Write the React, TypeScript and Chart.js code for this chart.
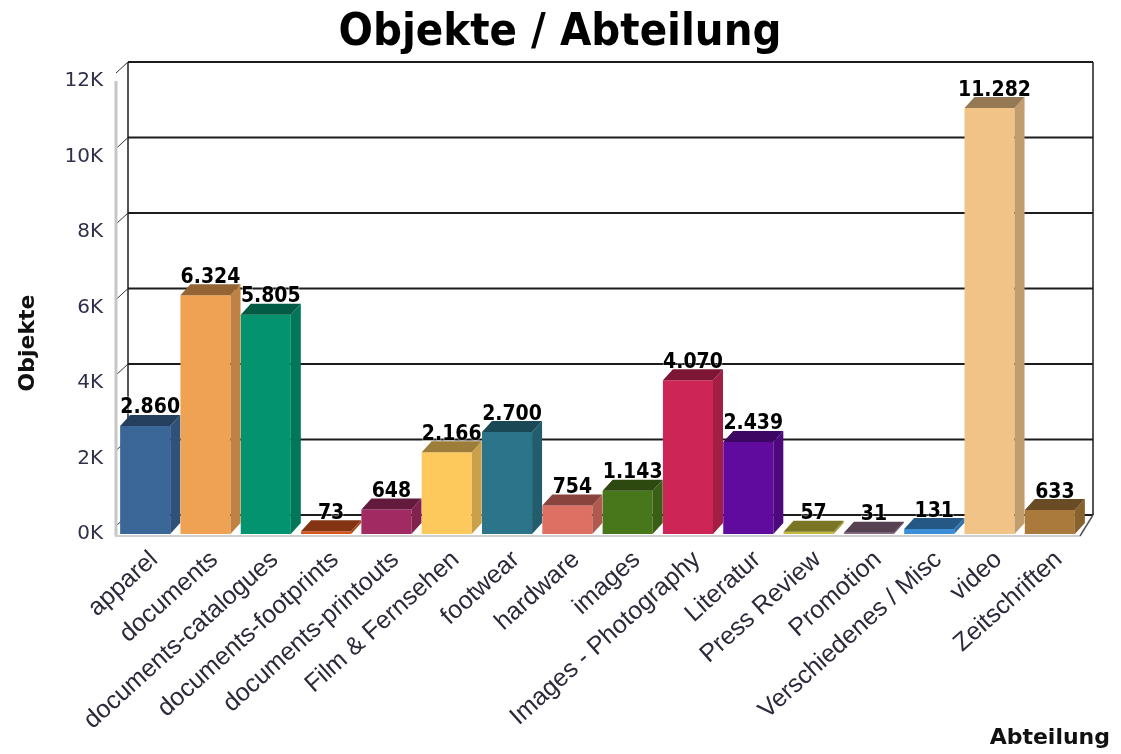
import React, { useEffect, useRef } from "react";
import { Chart, registerables } from "chart.js";

Chart.register(...registerables);

// ---------- data ----------
const categories: string[] = [
  "apparel",
  "documents",
  "documents-catalogues",
  "documents-footprints",
  "documents-printouts",
  "Film & Fernsehen",
  "footwear",
  "hardware",
  "images",
  "Images - Photography",
  "Literatur",
  "Press Review",
  "Promotion",
  "Verschiedenes / Misc",
  "video",
  "Zeitschriften",
];

const objekte: number[] = [
  2860, 6324, 5805, 73, 648, 2166, 2700, 754, 1143, 4070, 2439, 57, 31, 131, 11282, 633,
];

const barColors: string[] = [
  "#3b6698",
  "#efa254",
  "#03936f",
  "#d4561e",
  "#a12a62",
  "#fdc95d",
  "#2b7489",
  "#dd6f63",
  "#48761a",
  "#cc2556",
  "#600a9e",
  "#c4bb3c",
  "#8a6a85",
  "#3c8ed6",
  "#f1c387",
  "#a97a3b",
];

const yTicks: number[] = [0, 2000, 4000, 6000, 8000, 10000, 12000];

const chartTitle = "Objekte / Abteilung";
const yAxisTitle = "Objekte";
const xAxisTitle = "Abteilung";

// ---------- helpers ----------
const WALL_DX = 13;
const WALL_DY = -19;
const BAR_DX = 10;
const BAR_DY = -11;

function shade(hex: string, f: number): string {
  const n = parseInt(hex.slice(1), 16);
  const r = Math.round(((n >> 16) & 255) * f);
  const g = Math.round(((n >> 8) & 255) * f);
  const b = Math.round((n & 255) * f);
  return `rgb(${r},${g},${b})`;
}

function formatDe(v: number): string {
  return String(v).replace(/\B(?=(\d{3})+(?!\d))/g, ".");
}

const threeDPlugin = {
  id: "threeD",
  beforeDatasetsDraw(chart: any) {
    const { ctx, chartArea: a, scales } = chart;
    const y = scales.y;
    const backL = a.left + WALL_DX;
    const backR = a.right + WALL_DX;
    const topB = y.getPixelForValue(yTicks[yTicks.length - 1]) + WALL_DY;
    const botB = y.getPixelForValue(0) + WALL_DY;
    ctx.save();
    // back wall grid
    ctx.strokeStyle = "#1c1c1c";
    ctx.lineWidth = 2;
    for (const v of yTicks) {
      const by = y.getPixelForValue(v) + WALL_DY;
      ctx.beginPath();
      ctx.moveTo(backL, by);
      ctx.lineTo(backR, by);
      ctx.stroke();
    }
    ctx.lineWidth = 1.5;
    ctx.beginPath();
    ctx.moveTo(backL, topB);
    ctx.lineTo(backL, botB);
    ctx.moveTo(backR, topB);
    ctx.lineTo(backR, botB);
    ctx.stroke();
    // side wall diagonals
    ctx.lineWidth = 1;
    ctx.strokeStyle = "#333";
    for (const v of yTicks) {
      const fy = y.getPixelForValue(v);
      ctx.beginPath();
      ctx.moveTo(a.left + 1, fy - 8);
      ctx.lineTo(backL, fy + WALL_DY);
      ctx.stroke();
    }
    // front vertical axis (gray)
    ctx.strokeStyle = "#c6c6c6";
    ctx.lineWidth = 3;
    ctx.beginPath();
    ctx.moveTo(a.left + 1, y.getPixelForValue(yTicks[yTicks.length - 1]));
    ctx.lineTo(a.left + 1, a.bottom + 2);
    ctx.stroke();
    // floor front edge
    ctx.strokeStyle = "#cfcfcf";
    ctx.lineWidth = 2;
    ctx.beginPath();
    ctx.moveTo(a.left, a.bottom + 2);
    ctx.lineTo(a.right, a.bottom + 2);
    ctx.stroke();
    // floor right diagonal
    ctx.strokeStyle = "#555";
    ctx.lineWidth = 1.5;
    ctx.beginPath();
    ctx.moveTo(a.right, a.bottom + 2);
    ctx.lineTo(backR, botB);
    ctx.stroke();
    ctx.restore();
  },
  afterDatasetsDraw(chart: any) {
    const { ctx } = chart;
    const meta = chart.getDatasetMeta(0);
    ctx.save();
    meta.data.forEach((bar: any, i: number) => {
      const { x, y: top, base, width } = bar.getProps(["x", "y", "base", "width"], true);
      const l = x - width / 2;
      const r = x + width / 2;
      const col = barColors[i];
      // side face
      ctx.fillStyle = shade(col, 0.8);
      ctx.beginPath();
      ctx.moveTo(r, top);
      ctx.lineTo(r + BAR_DX, top + BAR_DY);
      ctx.lineTo(r + BAR_DX, base + BAR_DY);
      ctx.lineTo(r, base);
      ctx.closePath();
      ctx.fill();
      // top face
      ctx.fillStyle = shade(col, 0.62);
      ctx.beginPath();
      ctx.moveTo(l, top);
      ctx.lineTo(l + BAR_DX, top + BAR_DY);
      ctx.lineTo(r + BAR_DX, top + BAR_DY);
      ctx.lineTo(r, top);
      ctx.closePath();
      ctx.fill();
    });
    // value labels
    ctx.font = "bold 21px 'DejaVu Sans Condensed', 'DejaVu Sans', sans-serif";
    ctx.textAlign = "center";
    ctx.textBaseline = "middle";
    meta.data.forEach((bar: any, i: number) => {
      const { x, y: top } = bar.getProps(["x", "y"], true);
      ctx.lineWidth = 2;
      ctx.strokeStyle = "rgba(255,255,255,0.35)";
      ctx.strokeText(formatDe(objekte[i]), x + 5, top - 18);
      ctx.fillStyle = "#000";
      ctx.fillText(formatDe(objekte[i]), x + 5, top - 18);
    });
    ctx.restore();
  },
  afterDraw(chart: any) {
    const { ctx } = chart;
    ctx.save();
    // chart title
    ctx.fillStyle = "#000";
    ctx.font = "bold 45px 'DejaVu Sans Condensed', 'DejaVu Sans', sans-serif";
    ctx.textAlign = "center";
    ctx.textBaseline = "alphabetic";
    ctx.fillText(chartTitle, 560, 45);
    // axis titles
    ctx.fillStyle = "#111";
    ctx.font = "bold 22px 'DejaVu Sans', sans-serif";
    ctx.textAlign = "right";
    ctx.fillText(xAxisTitle, 1110, 744);
    ctx.translate(28, 343);
    ctx.rotate(-Math.PI / 2);
    ctx.textAlign = "center";
    ctx.textBaseline = "middle";
    ctx.fillText(yAxisTitle, 0, 0);
    ctx.restore();
  },
};

export default function App() {
  const canvasRef = useRef<HTMLCanvasElement | null>(null);

  useEffect(() => {
    const canvas = canvasRef.current;
    if (!canvas) return;
    const chart = new Chart(canvas, {
      type: "bar",
      data: {
        labels: categories,
        datasets: [
          {
            label: yAxisTitle,
            data: objekte,
            backgroundColor: barColors,
            borderWidth: 0,
            categoryPercentage: 1,
            barPercentage: 0.83,
          },
        ],
      },
      options: {
        animation: false,
        responsive: true,
        maintainAspectRatio: false,
        layout: { padding: { left: 0, right: 41, top: 81, bottom: 0 } },
        plugins: {
          legend: { display: false },
          tooltip: { enabled: false },
          title: { display: false },
        },
        scales: {
          x: {
            grid: { display: false, drawTicks: false },
            border: { display: false },
            ticks: {
              autoSkip: false,
              minRotation: 42,
              maxRotation: 42,
              padding: 11,
              labelOffset: 9,
              color: "#2a2a3a",
              font: { family: "'Liberation Sans', Arial, sans-serif", size: 25 },
            },
            afterFit: (s: any) => {
              s.height = 220;
            },
          },
          y: {
            min: 0,
            max: 12000,
            grid: { display: false, drawTicks: false },
            border: { display: false },
            ticks: {
              stepSize: 2000,
              padding: 12,
              color: "#30304a",
              font: { family: "'DejaVu Sans', sans-serif", size: 20 },
              callback: (v: any) => `${Number(v) / 1000}K`,
            },
            afterFit: (s: any) => {
              s.width = 115;
            },
          },
        },
      },
      plugins: [threeDPlugin],
    });
    return () => chart.destroy();
  }, []);

  return (
    <div style={{ position: "fixed", left: 0, top: 0, width: 1121, height: 754, background: "#fff" }}>
      <canvas ref={canvasRef} />
    </div>
  );
}
